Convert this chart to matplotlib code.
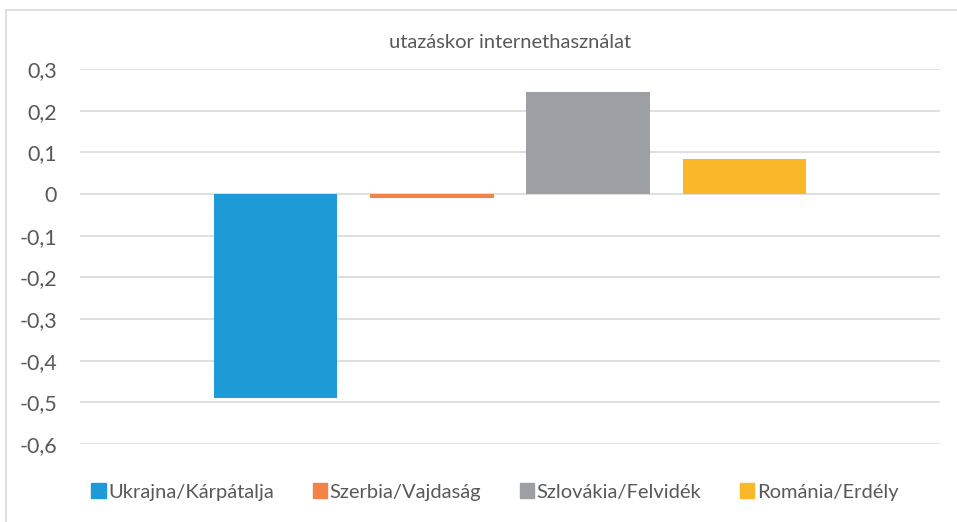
import matplotlib
matplotlib.use('Agg')
import matplotlib.pyplot as plt
from matplotlib.lines import Line2D
from matplotlib.patches import Patch

# adatok
regions = ['Ukrajna/Kárpátalja', 'Szerbia/Vajdaság', 'Szlovákia/Felvidék', 'Románia/Erdély']
values = [-0.49, -0.01, 0.244, 0.084]
colors = ['#1E9BD7', '#F58345', '#9C9FA3', '#FBB72A']
yticks = [0.3, 0.2, 0.1, 0, -0.1, -0.2, -0.3, -0.4, -0.5, -0.6]
title = 'utazáskor internethasználat'

plt.rcParams['font.family'] = ['Lato', 'DejaVu Sans']

W, H = 957, 522
fig = plt.figure(figsize=(W / 100, H / 100), dpi=100)
ax = fig.add_axes([80 / W, (H - 444) / H, 860 / W, 375 / H])

x = list(range(len(values)))
ax.bar(x, values, width=0.79, color=colors, zorder=3)
ax.set_xlim(-1.25, len(values) + 0.25)
ax.set_ylim(-0.6, 0.3)
ax.set_yticks(yticks)
ax.set_yticklabels([f'{v:g}'.replace('.', ',') for v in yticks], color='#595959', fontsize=15.5)
ax.tick_params(axis='y', length=0, pad=16.5)
ax.set_xticks([])
ax.grid(axis='y', color='#D9D9D9', linewidth=1.2, zorder=0)
for s in ax.spines.values():
    s.set_visible(False)

fig.text(510 / W, 1 - 42 / H, title, ha='center', va='center', fontsize=14.5, color='#595959')

# keret
fig.add_artist(Line2D([6 / W, 1], [1 - 10 / H, 1 - 10 / H], color='#D9D9D9', linewidth=1.2))
fig.add_artist(Line2D([6 / W, 6 / W], [0, 1 - 10 / H], color='#D9D9D9', linewidth=1.2))

handles = [Patch(color=c) for c in colors]
fig.legend(handles, regions, loc='center', bbox_to_anchor=(495 / W, 1 - 492 / H), ncol=4,
           frameon=False, fontsize=14.5, labelcolor='#595959', handlelength=0.7, handleheight=0.75,
           handletextpad=0.15, columnspacing=1.9)

fig.savefig('out.png', dpi=100)
